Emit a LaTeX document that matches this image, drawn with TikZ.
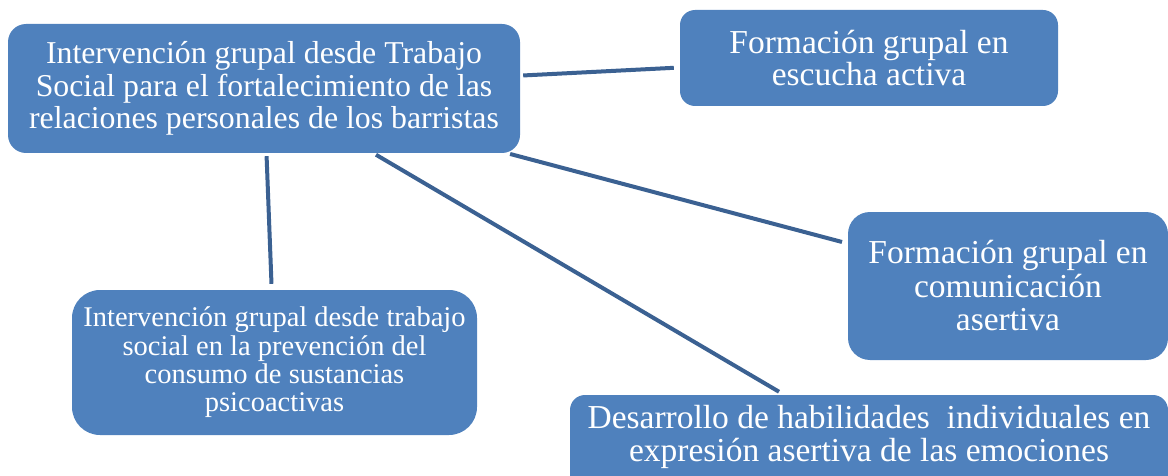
\documentclass[tikz,border=0pt]{standalone}
\usepackage{fontspec}
\setmainfont{Liberation Serif}
\usepackage{tikz}
\definecolor{azul}{HTML}{4F81BD}
\definecolor{azuloscuro}{HTML}{3B6192}

\begin{document}
\begin{tikzpicture}[x=1pt, y=-1pt,
                caja/.style={fill=azul, rounded corners=18pt, text=white, align=center, inner sep=0pt},
                grande/.style={font=\fontsize{33.5}{32}\selectfont},
                enlace/.style={draw=azuloscuro, line width=4pt, shorten <=3pt, shorten >=6pt}
                ]
  \clip (0,0) rectangle (1168,476);
  \node[caja, minimum width=512pt, minimum height=129pt, font=\fontsize{31.8}{32.5}\selectfont]
    (centro) at (264,88.5) {Intervención grupal desde Trabajo\\Social para el fortalecimiento de las\\relaciones personales de los barristas};
  \node[caja, grande, minimum width=378pt, minimum height=96pt, rounded corners=15pt]
    (escucha) at (869,58) {Formación grupal en\\escucha activa};
  \node[caja, grande, minimum width=320pt, minimum height=148pt, rounded corners=22pt, font=\fontsize{33.5}{33.5}\selectfont]
    (asertiva) at (1008,286) {Formación grupal en\\comunicación\\asertiva};
  \node[caja, minimum width=405pt, minimum height=145pt, rounded corners=28pt, font=\fontsize{28.5}{28.3}\selectfont]
    (consumo) at (274.5,362.5) {Intervención grupal desde trabajo\\social en la prevención del\\consumo de sustancias\\psicoactivas};
  \node[caja, grande, minimum width=598pt, minimum height=100pt, rounded corners=15pt, text depth=23pt, font=\fontsize{33.5}{33}\selectfont]
    (emociones) at (869,445) {Desarrollo de habilidades~ individuales en\\expresión asertiva de las emociones};
  \draw[enlace] (centro) -- (escucha);
  \draw[enlace] (centro) -- (asertiva);
  \draw[enlace] (centro) -- (emociones);
  \draw[enlace] (centro) -- (consumo);
\end{tikzpicture}
\end{document}
